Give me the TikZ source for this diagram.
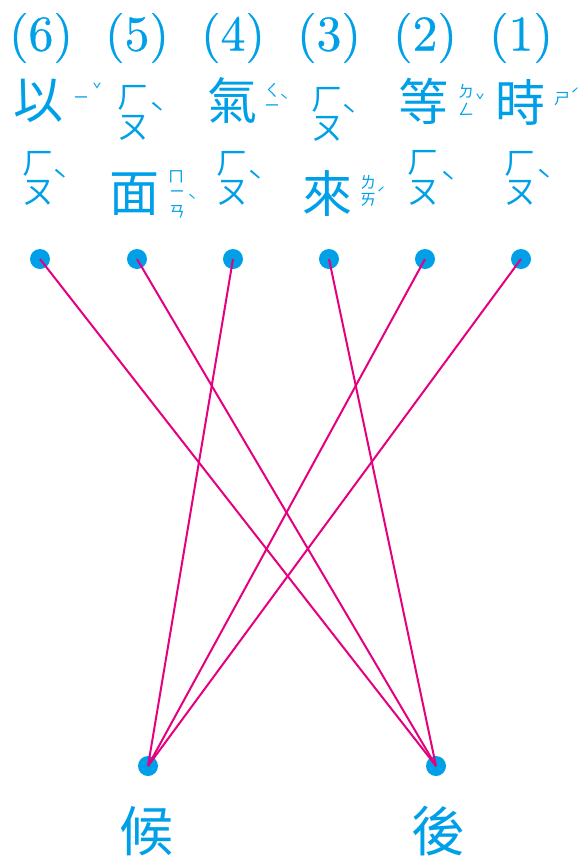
\documentclass[tikz,border=0pt]{standalone}
\usepackage{fontspec}
\newfontfamily\cjk{Noto Sans CJK TC}
\newfontfamily\numfont[FakeBold=0.6]{lmroman10-regular.otf}
\definecolor{zblue}{HTML}{00A0E9}
\definecolor{zpink}{HTML}{E5007F}
\tikzset{
  num/.style={text=zblue, font=\numfont\fontsize{50}{50}\selectfont, inner sep=0pt},
  hanzi/.style={text=zblue, font=\cjk\fontsize{50}{50}\selectfont, inner sep=0pt},
  bighanzi/.style={text=zblue, font=\cjk\fontsize{54}{54}\selectfont, inner sep=0pt},
  bigzy/.style={text=zblue, font=\cjk\fontsize{32}{32}\selectfont, inner sep=0pt},
  bigtone/.style={text=zblue, font=\cjk\fontsize{26}{26}\selectfont, inner sep=0pt},
  smallzy/.style={text=zblue, font=\cjk\fontsize{16}{16}\selectfont, inner sep=0pt},
  smalltone/.style={text=zblue, font=\cjk\fontsize{15}{15}\selectfont, inner sep=0pt},
  dotnode/.style={circle, fill=zblue, minimum size=20pt, inner sep=0pt},
  link/.style={draw=zpink, line width=2pt},
}
\begin{document}
\begin{tikzpicture}[x=1pt,y=-1pt]
\useasboundingbox (0,0) rectangle (579,857);
% numbers
\node[num] (n6) at (41,38) {(6)};
\node[num] (n5) at (137,38) {(5)};
\node[num] (n4) at (233,38) {(4)};
\node[num] (n3) at (329,38) {(3)};
\node[num] (n2) at (425,38) {(2)};
\node[num] (n1) at (521,38) {(1)};
% column 6: 以 ㄧˇ / ㄏㄡˋ
\node[hanzi] (c6) at (38,101) {以};
\node[smallzy] (c6a) at (81,100) {ㄧ};
\node[smalltone] (c6t) at (97,89) {ˇ};
\node[bigzy] (h6a) at (39,164) {ㄏ};
\node[bigzy] (h6b) at (39,193) {ㄡ};
\node[bigtone] (h6t) at (60,180) {ˋ};
% column 5: ㄏㄡˋ / 面 ㄇㄧㄢˋ
\node[bigzy] (h5a) at (133,98) {ㄏ};
\node[bigzy] (h5b) at (133,128) {ㄡ};
\node[bigtone] (h5t) at (157,113) {ˋ};
\node[hanzi] (c5) at (134,194) {面};
\node[smallzy] (c5a) at (176,177) {ㄇ};
\node[smallzy] (c5b) at (177,194) {ㄧ};
\node[smallzy] (c5c) at (177,212) {ㄢ};
\node[smalltone] (c5t) at (192,200) {ˋ};
% column 4: 氣 ㄑㄧˋ / ㄏㄡˋ
\node[hanzi] (c4) at (232,100) {氣};
\node[smallzy] (c4a) at (272,90) {ㄑ};
\node[smallzy] (c4b) at (272,108) {ㄧ};
\node[smalltone] (c4t) at (284,100) {ˋ};
\node[bigzy] (h4a) at (232,164) {ㄏ};
\node[bigzy] (h4b) at (232,193) {ㄡ};
\node[bigtone] (h4t) at (255,181) {ˋ};
% column 3: ㄏㄡˋ / 來 ㄌㄞˊ
\node[bigzy] (h3a) at (327,100) {ㄏ};
\node[bigzy] (h3b) at (327,129) {ㄡ};
\node[bigtone] (h3t) at (349,115) {ˋ};
\node[hanzi] (c3) at (327,194) {來};
\node[smallzy] (c3a) at (368,182) {ㄌ};
\node[smallzy] (c3b) at (368,200) {ㄞ};
\node[smalltone] (c3t) at (381,193) {ˊ};
% column 2: 等 ㄉㄥˇ / ㄏㄡˋ
\node[hanzi] (c2) at (423,101) {等};
\node[smallzy] (c2a) at (466,91) {ㄉ};
\node[smallzy] (c2b) at (466,109) {ㄥ};
\node[smalltone] (c2t) at (480,100) {ˇ};
\node[bigzy] (h2a) at (423,163) {ㄏ};
\node[bigzy] (h2b) at (423,193) {ㄡ};
\node[bigtone] (h2t) at (448,182) {ˋ};
% column 1: 時 ㄕˊ / ㄏㄡˋ
\node[hanzi] (c1) at (520,102) {時};
\node[smallzy] (c1a) at (562,99) {ㄕ};
\node[smalltone] (c1t) at (575,94) {ˊ};
\node[bigzy] (h1a) at (520,164) {ㄏ};
\node[bigzy] (h1b) at (520,193) {ㄡ};
\node[bigtone] (h1t) at (544,180) {ˋ};
% dots
\node[dotnode] (d6) at (40,259) {};
\node[dotnode] (d5) at (137,259) {};
\node[dotnode] (d4) at (233,259) {};
\node[dotnode] (d3) at (329,259) {};
\node[dotnode] (d2) at (425,259) {};
\node[dotnode] (d1) at (521,259) {};
\node[dotnode] (dh) at (148,766) {};
\node[dotnode] (dg) at (436,766) {};
% bottom characters
\node[bighanzi] (bh) at (146,831) {候};
\node[bighanzi] (bg) at (438,831) {後};
% links
\draw[link] (d6.center) -- (dg.center);
\draw[link] (d5.center) -- (dg.center);
\draw[link] (d3.center) -- (dg.center);
\draw[link] (d4.center) -- (dh.center);
\draw[link] (d2.center) -- (dh.center);
\draw[link] (d1.center) -- (dh.center);
\end{tikzpicture}
\end{document}
